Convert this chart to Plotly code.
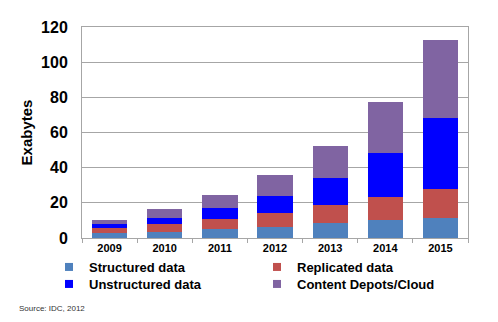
import plotly.graph_objects as go

years = ["2009", "2010", "2011", "2012", "2013", "2014", "2015"]
structured = [2.6, 3.6, 4.9, 6.4, 8.7, 10.4, 11.5]
replicated = [2.9, 4.2, 5.9, 8.0, 10.0, 13.1, 16.3]
unstructured = [2.6, 3.7, 6.0, 9.6, 15.6, 24.8, 40.2]
content = [2.3, 4.8, 7.4, 11.8, 18.3, 29.1, 44.6]

series = [
    ("Structured data", structured, "#4F81BD", "legend"),
    ("Replicated data", replicated, "#C0504D", "legend"),
    ("Unstructured data", unstructured, "#0000FF", "legend2"),
    ("Content Depots/Cloud", content, "#8064A2", "legend2"),
]

fig = go.Figure()
for name, vals, col, lg in series:
    fig.add_trace(go.Bar(x=years, y=vals, name=name, showlegend=False,
                         marker=dict(color=col, line=dict(width=0))))
for name, vals, col, lg in series:
    fig.add_trace(go.Scatter(x=[None], y=[None], name=name, mode="markers", legend=lg,
                             marker=dict(symbol="square", size=8, color=col)))

W, H = 498, 322
ml, mr, mt, mb = 82, 30, 27, 84
pw, ph = W - ml - mr, H - mt - mb

legfont = dict(size=13, family="Arial, Liberation Sans, sans-serif", weight="bold", color="black")
leg_common = dict(orientation="h", xanchor="left", yanchor="middle", entrywidth=163,
                  entrywidthmode="pixels", font=legfont, itemsizing="trace",
                  traceorder="normal",
                  bgcolor="rgba(0,0,0,0)", borderwidth=0)

fig.update_layout(
    width=W, height=H,
    margin=dict(l=ml, r=mr, t=mt, b=mb, autoexpand=False),
    barmode="stack",
    bargap=0.36,
    plot_bgcolor="white",
    paper_bgcolor="white",
    font=dict(family="Arial, Liberation Sans, sans-serif", color="black"),
    showlegend=True,
    legend=dict(x=(49 - ml) / pw, y=-(267 - (H - mb)) / ph, **leg_common),
    legend2=dict(x=(49 - ml) / pw, y=-(284 - (H - mb)) / ph, **leg_common),
    xaxis=dict(
        showline=True, linecolor="#a6a6a6", linewidth=1, mirror=True,
        ticks="outside", tickson="boundaries", ticklen=4, tickcolor="#a6a6a6",
        tickfont=dict(size=11, weight="bold"),
        showgrid=False,
    ),
    yaxis=dict(
        range=[0, 120], tickvals=[0, 20, 40, 60, 80, 100, 120],
        showline=True, linecolor="#a6a6a6", linewidth=1, mirror=True,
        showgrid=True, gridcolor="#a6a6a6", gridwidth=1,
        ticks="", ticklabelstandoff=10,
        tickfont=dict(size=16, weight="bold"),
        title=dict(text="Exabytes", font=dict(size=15, weight="bold"), standoff=4),
    ),
    annotations=[
        dict(text="Source: IDC, 2012", xref="paper", yref="paper",
             x=(17 - ml) / pw, y=-(308 - (H - mb)) / ph,
             xanchor="left", yanchor="middle", showarrow=False,
             font=dict(size=8, color="#333333")),
    ],
)

fig.write_html("out.html")
